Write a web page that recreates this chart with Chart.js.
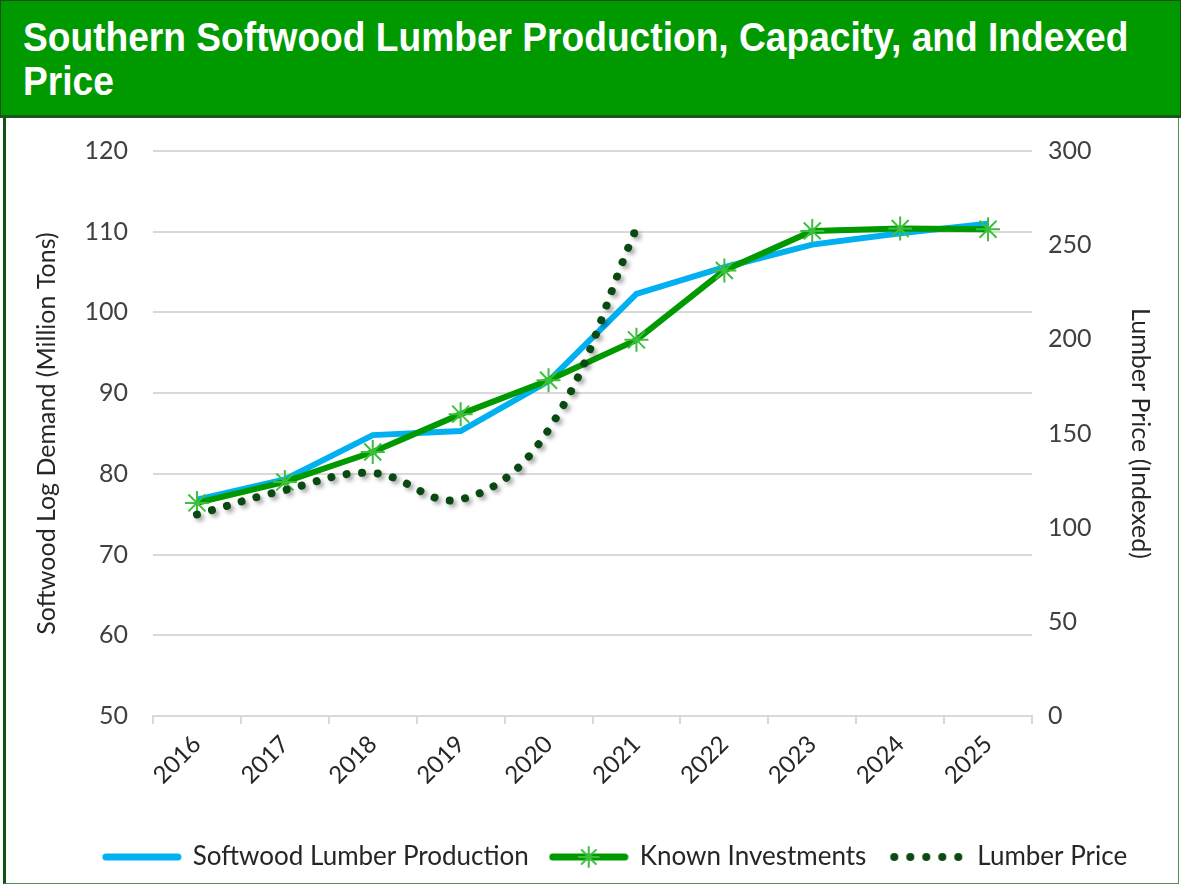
<!DOCTYPE html>
<html>
<head>
<meta charset="utf-8">
<script src="https://cdn.jsdelivr.net/npm/chart.js@4.4.1/dist/chart.umd.min.js"></script>
<style>
  html, body { margin:0; padding:0; background:#fff; }
  #wrap { position:relative; width:1181px; height:886px; overflow:hidden; }
  #title { position:absolute; left:0; top:0; width:1179px; height:114px; background:#009900;
           border:1px solid #1c4f1c; border-bottom:3px solid #1b561b; }
  #title span { position:absolute; left:22px; color:#fff; font:bold 40px 'Liberation Sans', Arial, sans-serif;
                line-height:43px; transform-origin:0 0; white-space:nowrap; }
  #frame { position:absolute; left:3px; top:118px; width:1172px; height:765px;
           border-left:3px solid #145214; border-right:1px solid #4f8f4f; border-bottom:1px solid #4f8f4f; }
  #box { position:absolute; left:0; top:111px; width:1181px; height:773px; }
</style>
</head>
<body>
<div id="wrap">
  <div id="title"><span id="t1" style="top:15px">Southern Softwood Lumber Production, Capacity, and Indexed</span><span id="t2" style="top:59px">Price</span></div>
  <div id="frame"></div>
  <div id="box"><canvas id="chart" width="1181" height="773"></canvas></div>
</div>
<script>
// ─── Data ─────────────────────────────────────────────────────────────────────
const YEARS      = ['2016','2017','2018','2019','2020','2021','2022','2023','2024','2025'];
const PRODUCTION = [76.8, 79.3, 84.8, 85.3, 91.5, 102.3, 105.6, 108.4, 109.8, 111.0];
const INVEST     = [76.4, 79.0, 82.7, 87.4, 91.6, 96.6, 105.2, 110.1, 110.4, 110.3];
const PRICE      = [107, 120, 129, 115, 152, 259, null, null, null, null];
const SERIES     = ['Softwood Lumber Production', 'Known Investments', 'Lumber Price'];

// ─── Style ────────────────────────────────────────────────────────────────────
const FONT = "Lato, 'Open Sans', sans-serif";
const GRID = '#d9d9d9';
const BLUE = '#00b0f0', GREEN = '#009900', MARK = '#3cc03c', DOT = '#0a4a12';

// squeeze the title so it fits like the original narrow face
const t1 = document.getElementById('t1'), t2 = document.getElementById('t2');
const sx = 1105 / t1.offsetWidth;
t1.style.transform = t2.style.transform = `scaleX(${sx})`;

// legend swatches
function swatch(draw) {
  const c = document.createElement('canvas');
  c.width = 80; c.height = 26;
  draw(c.getContext('2d'));
  return c;
}
const swBlue = swatch(g => {
  g.strokeStyle = BLUE; g.lineWidth = 7; g.lineCap = 'round';
  g.beginPath(); g.moveTo(4, 13); g.lineTo(76, 13); g.stroke();
});
const swGreen = swatch(g => {
  g.strokeStyle = GREEN; g.lineWidth = 7; g.lineCap = 'round';
  g.beginPath(); g.moveTo(4, 13); g.lineTo(76, 13); g.stroke();
  g.strokeStyle = MARK; g.lineWidth = 2;
  g.beginPath();
  for (let a = 0; a < 4; a++) {
    const r = a * Math.PI / 4;
    g.moveTo(40 - 10 * Math.cos(r), 13 - 10 * Math.sin(r));
    g.lineTo(40 + 10 * Math.cos(r), 13 + 10 * Math.sin(r));
  }
  g.stroke();
});
const swDots = swatch(g => {
  g.fillStyle = DOT;
  for (let i = 0; i < 5; i++) { g.beginPath(); g.arc(8 + i * 16, 13, 4, 0, Math.PI * 2); g.fill(); }
});
const SWATCHES = [swBlue, swGreen, swDots];

const dotShadow = {
  id: 'dotShadow',
  beforeDatasetDraw(chart, args) {
    if (args.index !== 2) return;
    const c = chart.ctx;
    c.save();
    c.shadowColor = 'rgba(0,0,0,0.35)'; c.shadowBlur = 4; c.shadowOffsetX = 3; c.shadowOffsetY = 3;
  },
  afterDatasetDraw(chart, args) { if (args.index === 2) chart.ctx.restore(); }
};

// original legend sits a little right of centre
const legendNudge = {
  id: 'legendNudge',
  afterLayout(chart) { chart.legend.left += 25; chart.legend.right += 25; }
};

new Chart(document.getElementById('chart').getContext('2d'), {
  type: 'line',
  data: {
    labels: YEARS,
    datasets: [
      { label: SERIES[0], data: PRODUCTION, yAxisID: 'y', order: 2,
        borderColor: BLUE, borderWidth: 6, pointRadius: 0, tension: 0 },
      { label: SERIES[1], data: INVEST, yAxisID: 'y', order: 1,
        borderColor: GREEN, borderWidth: 6, tension: 0,
        pointStyle: 'star', pointRadius: 12, pointBorderColor: MARK, pointBorderWidth: 2, pointBackgroundColor: MARK },
      { label: SERIES[2], data: PRICE, yAxisID: 'y2', order: 0,
        borderColor: DOT, borderWidth: 8, borderDash: [0.01, 15.5], borderCapStyle: 'round',
        pointRadius: 0, tension: 0.4, spanGaps: false }
    ]
  },
  options: {
    responsive: false,
    animation: false,
    layout: { padding: { top: 27, left: 0, right: 0, bottom: 4 } },
    plugins: {
      tooltip: { enabled: false },
      legend: {
        position: 'bottom',
        labels: {
          usePointStyle: true, pointStyleWidth: 76, padding: 22,
          color: '#262626', font: { family: FONT, size: 26 },
          generateLabels: () => SERIES.map((s, i) => ({
            text: s, pointStyle: SWATCHES[i], datasetIndex: i, hidden: false,
            fillStyle: 'transparent', strokeStyle: 'transparent', lineWidth: 0, fontColor: '#262626'
          }))
        }
      }
    },
    scales: {
      x: {
        offset: true,
        grid: { offset: true, drawOnChartArea: false, drawTicks: true, tickLength: 8, color: GRID, lineWidth: 2 },
        border: { color: GRID, width: 2 },
        ticks: { color: '#262626', font: { family: FONT, size: 24 }, minRotation: 45, maxRotation: 45, padding: 6 },
        afterFit: s => { s.height = 106; }
      },
      y: {
        position: 'left', min: 50, max: 120,
        ticks: { stepSize: 10, color: '#404040', font: { family: FONT, size: 25 }, padding: 25 },
        grid: { color: GRID, lineWidth: 2, drawTicks: false },
        border: { display: false },
        title: { display: true, text: 'Softwood Log Demand (Million Tons)', color: '#262626',
                 font: { family: FONT, size: 25 }, padding: { top: 32, bottom: 0 } },
        afterFit: s => { s.width = 153; }
      },
      y2: {
        position: 'right', min: 0, max: 300,
        ticks: { stepSize: 50, color: '#404040', font: { family: FONT, size: 25 }, padding: 16 },
        grid: { display: false, drawTicks: false },
        border: { display: false },
        title: { display: true, text: 'Lumber Price (Indexed)', color: '#262626',
                 font: { family: FONT, size: 25 }, padding: { top: 26, bottom: 0 } },
        afterFit: s => { s.width = 149; }
      }
    }
  },
  plugins: [dotShadow, legendNudge]
});
</script>
</body>
</html>
